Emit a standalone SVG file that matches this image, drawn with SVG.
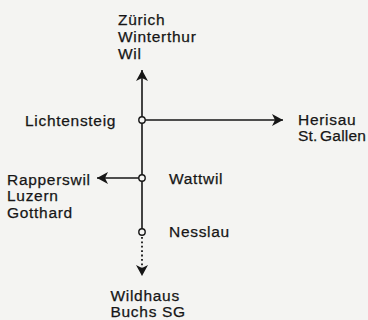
<svg xmlns="http://www.w3.org/2000/svg" width="368" height="320" viewBox="0 0 368 320">
<defs>
<style>
text{font-family:"Liberation Sans",Arial,sans-serif;font-size:15.5px;fill:#161616;stroke:#161616;stroke-width:0.25;letter-spacing:0.7px}
.ln{stroke:#161616;stroke-width:1.6;fill:none}
.dot{stroke:#161616;stroke-width:1.8;fill:none;stroke-dasharray:1.8 2.6}
.nd{fill:#f4f4f2;stroke:#161616;stroke-width:1.4}
.ah{fill:#161616}
</style>
<marker id="arr" viewBox="0 0 12 12" refX="11" refY="6" markerWidth="12" markerHeight="12" markerUnits="userSpaceOnUse" orient="auto">
<path class="ah" d="M0,0 L11,6 L0,12 L3,6 Z"/>
</marker>
</defs>
<rect width="368" height="320" fill="#f4f4f2"/>
<g id="connectors">
<line class="ln" x1="142" y1="117" x2="142" y2="70" marker-end="url(#arr)"/>
<line class="ln" x1="142" y1="123" x2="142" y2="175"/>
<line class="ln" x1="142" y1="181" x2="142" y2="229"/>
<line class="ln" x1="145" y1="120" x2="283" y2="120" marker-end="url(#arr)"/>
<line class="ln" x1="139" y1="178" x2="97" y2="178" marker-end="url(#arr)"/>
<line class="dot" x1="142" y1="237" x2="142" y2="268"/>
<line class="ln" x1="142" y1="266" x2="142" y2="276" marker-end="url(#arr)" style="stroke-width:0.1"/>
</g>
<g id="zurich"><text x="118" y="25">Zürich</text><text x="118" y="42">Winterthur</text><text x="118" y="59">Wil</text></g>
<g id="lichtensteig"><circle class="nd" cx="142" cy="120" r="3.2"/><text x="25" y="125.5">Lichtensteig</text></g>
<g id="herisau"><text x="298" y="124.5">Herisau</text><text x="298" y="141" style="letter-spacing:0.2px;word-spacing:-2px">St. Gallen</text></g>
<g id="wattwil"><circle class="nd" cx="142" cy="178" r="3.2"/><text x="169" y="183.5">Wattwil</text></g>
<g id="rapperswil"><text x="7" y="184.5">Rapperswil</text><text x="7" y="201">Luzern</text><text x="7" y="218">Gotthard</text></g>
<g id="nesslau"><circle class="nd" cx="142" cy="232" r="3.2"/><text x="169" y="236.5">Nesslau</text></g>
<g id="wildhaus"><text x="110.5" y="300.5">Wildhaus</text><text x="110.5" y="316.5">Buchs SG</text></g>
</svg>
